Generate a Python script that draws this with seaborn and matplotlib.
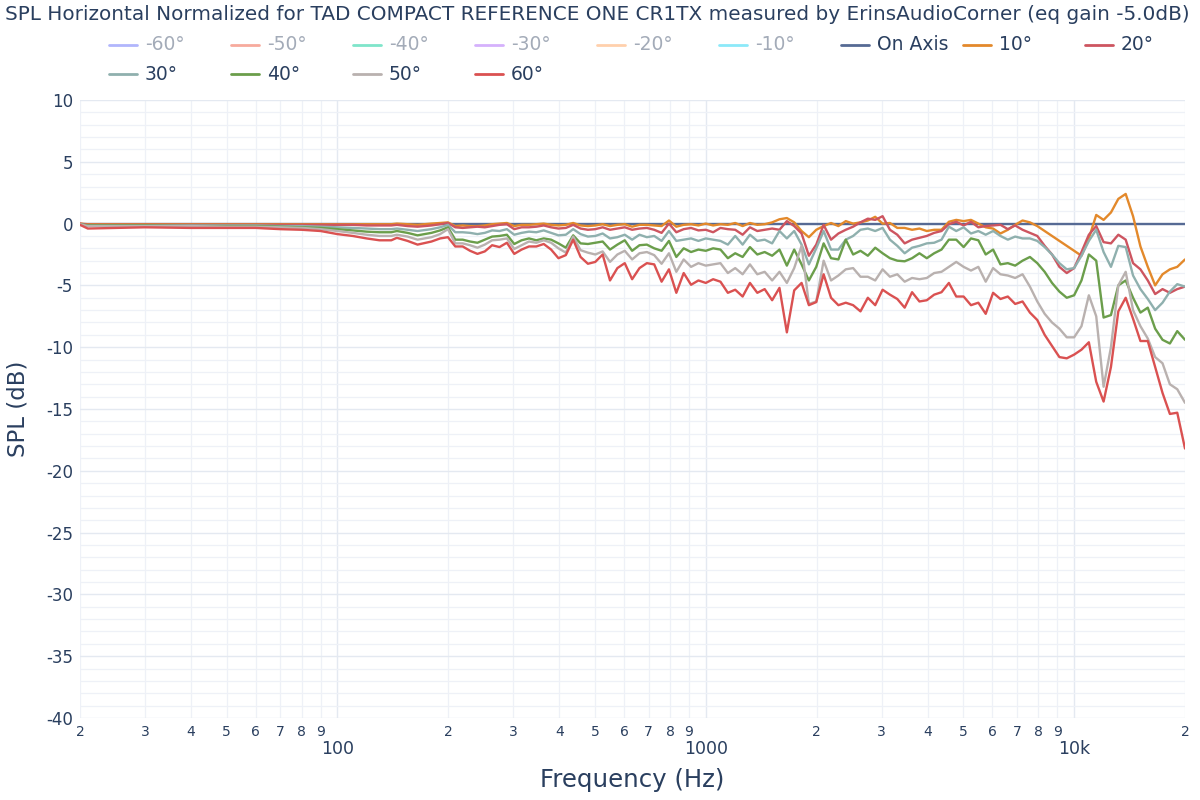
import matplotlib
matplotlib.use("Agg")
import numpy as np
import pandas as pd
import seaborn as sns
import matplotlib.pyplot as plt
from matplotlib.lines import Line2D

# ---------------- data ----------------
freq = [20, 21, 25, 30, 40, 50, 60, 70, 80, 90, 100, 110, 120, 130, 140, 145, 155, 165, 180, 190,
        199.5, 208.9, 218.8, 229.1, 239.9, 251.2, 263.0, 275.4, 288.4, 302.0,
        316.2, 331.1, 346.7, 363.1, 380.2, 398.1, 416.9, 436.5, 457.1, 478.6,
        501.2, 524.8, 549.5, 575.4, 602.6, 631.0, 660.7, 691.8, 724.4, 758.6,
        794.3, 831.8, 871.0, 912.0, 955.0, 1000, 1047, 1096, 1148, 1202,
        1259, 1318, 1380, 1445, 1514, 1585, 1660, 1738, 1820, 1905,
        1995, 2089, 2188, 2291, 2399, 2512, 2630, 2754, 2884, 3020,
        3162, 3311, 3467, 3631, 3802, 3981, 4169, 4365, 4571, 4786,
        5012, 5248, 5495, 5754, 6026, 6310, 6607, 6918, 7244, 7586,
        7943, 8318, 8710, 9120, 9550, 10000, 10471, 10965, 11482, 12023,
        12589, 13183, 13804, 14454, 15136, 15849, 16596, 17378, 18197, 19055,
        20000]

on_axis = [0.0] * 121

deg10 = [0.0, -0.05, -0.05, -0.05, -0.05, -0.05, -0.05, -0.05, -0.05, -0.05, -0.05, -0.05, -0.05, -0.05, -0.05, 0.0, -0.05, -0.1, 0.0, 0.05,
         0.1, -0.2, -0.15, -0.2, -0.2, -0.15, -0.05, 0.0, 0.05, -0.2,
         -0.1, -0.1, -0.05, 0.0, -0.1, -0.15, -0.1, 0.05, -0.15, -0.2,
         -0.15, -0.05, -0.2, -0.1, -0.05, -0.25, -0.1, -0.1, -0.15, -0.2,
         0.25, -0.25, -0.1, -0.05, -0.15, 0.0, -0.15, -0.05, -0.1, 0.05,
         -0.2, 0.05, -0.1, -0.05, 0.1, 0.35, 0.45, 0.1, -0.6, -1.1,
         -0.5, -0.2, 0.05, -0.2, 0.2, 0.0, 0.1, 0.25, 0.55, 0.0,
         0.05, -0.35, -0.35, -0.5, -0.4, -0.6, -0.5, -0.5, 0.15, 0.3,
         0.2, 0.3, 0.0, -0.3, -0.4, -0.8, -0.5, -0.1, 0.25, 0.1,
         -0.2, -0.6, -1.0, -1.4, -1.8, -2.2, -2.6, -1.2, 0.7, 0.3,
         0.9, 2.0, 2.4, 0.6, -1.85, -3.5, -5.0, -4.1, -3.7, -3.5,
         -2.9]

deg20 = [0.0, -0.1, -0.1, -0.1, -0.1, -0.1, -0.1, -0.1, -0.1, -0.1, -0.1, -0.1, -0.15, -0.15, -0.15, -0.1, -0.2, -0.25, -0.15, -0.05,
         0.05, -0.3, -0.35, -0.3, -0.25, -0.3, -0.2, -0.1, -0.05, -0.45,
         -0.3, -0.3, -0.25, -0.15, -0.3, -0.4, -0.35, -0.1, -0.4, -0.5,
         -0.45, -0.3, -0.5, -0.4, -0.3, -0.5, -0.4, -0.35, -0.5, -0.75,
         0.0, -0.7, -0.45, -0.35, -0.55, -0.5, -0.7, -0.35, -0.45, -0.5,
         -0.9, -0.3, -0.6, -0.5, -0.4, -0.5, 0.2, -0.2, -0.8, -2.6,
         -1.7, -0.1, -1.3, -0.8, -0.5, -0.25, 0.1, 0.4, 0.3, 0.6,
         -0.5, -0.9, -1.6, -1.3, -1.15, -1.0, -0.75, -0.6, -0.05, 0.15,
         -0.15, 0.15, -0.3, -0.2, -0.15, -0.1, -0.45, -0.15, -0.5, -0.75,
         -1.0, -1.8, -2.5, -3.5, -4.0, -3.6, -2.3, -0.9, -0.2, -1.5,
         -1.6, -0.9, -1.3, -3.2, -3.7, -4.6, -5.7, -5.3, -5.6, -5.3,
         -5.1]

deg30 = [-0.05, -0.15, -0.15, -0.15, -0.15, -0.15, -0.15, -0.2, -0.2, -0.25, -0.3, -0.35, -0.4, -0.45, -0.45, -0.4, -0.5, -0.6, -0.45, -0.3,
         -0.1, -0.7, -0.7, -0.75, -0.85, -0.75, -0.55, -0.6, -0.45, -0.9,
         -0.75, -0.65, -0.7, -0.55, -0.75, -0.95, -0.9, -0.45, -0.85, -1.05,
         -1.0, -0.8, -1.2, -1.1, -0.9, -1.3, -0.9, -1.1, -1.0, -1.4,
         -0.6, -1.4, -1.3, -1.2, -1.4, -1.2, -1.3, -1.4, -1.7, -1.0,
         -1.7, -0.9, -1.4, -1.3, -1.6, -0.6, -1.2, -0.6, -1.7, -3.3,
         -2.0, -0.6, -2.1, -2.1, -1.3, -1.0, -0.5, -0.4, -0.6, -0.35,
         -1.3, -1.8, -2.4, -1.95, -1.8, -1.6, -1.55, -1.3, -0.25, -0.6,
         -0.3, -0.8, -0.6, -0.9, -0.6, -1.0, -1.3, -1.05, -1.2, -1.2,
         -1.4, -1.9, -2.5, -3.2, -3.7, -3.6, -2.6, -1.4, -0.5, -2.3,
         -3.5, -1.8, -1.9, -4.2, -5.3, -6.1, -7.0, -6.4, -5.5, -4.9,
         -5.1]

deg40 = [-0.05, -0.15, -0.15, -0.15, -0.2, -0.2, -0.2, -0.25, -0.3, -0.35, -0.45, -0.55, -0.65, -0.7, -0.7, -0.6, -0.75, -0.95, -0.75, -0.55,
         -0.3, -1.3, -1.3, -1.45, -1.55, -1.3, -1.05, -1.0, -0.9, -1.65,
         -1.35, -1.2, -1.35, -1.2, -1.3, -1.6, -1.95, -0.95, -1.6, -1.65,
         -1.55, -1.45, -2.1, -1.7, -1.35, -2.2, -1.75, -1.7, -2.0, -2.2,
         -1.4, -2.7, -2.0, -2.3, -2.1, -2.2, -2.0, -2.1, -2.8, -2.4,
         -2.7, -1.9, -2.5, -2.3, -2.6, -2.1, -3.4, -2.1, -3.3, -4.6,
         -3.5, -1.6, -2.8, -2.9, -1.3, -2.5, -2.2, -2.6, -1.95, -2.4,
         -2.8, -3.0, -3.05, -2.8, -2.4, -2.8, -2.4, -2.1, -1.3, -1.3,
         -1.9, -1.2, -1.35, -2.5, -2.1, -3.3, -3.2, -3.4, -3.0, -2.7,
         -3.2, -3.9, -4.8, -5.5, -6.0, -5.8, -4.6, -2.5, -3.0, -7.6,
         -7.4, -5.0, -4.6, -6.0, -7.2, -6.8, -8.5, -9.4, -9.7, -8.7,
         -9.4]

deg50 = [-0.05, -0.2, -0.2, -0.2, -0.2, -0.25, -0.25, -0.3, -0.35, -0.45, -0.6, -0.75, -0.9, -1.0, -1.0, -0.9, -1.05, -1.3, -1.1, -0.85,
         -0.45, -1.6, -1.6, -1.75, -1.95, -1.7, -1.35, -1.3, -1.2, -2.05,
         -1.75, -1.45, -1.55, -1.35, -1.55, -2.0, -2.35, -1.05, -2.15, -2.35,
         -2.5, -2.25, -3.1, -2.5, -2.2, -2.9, -2.4, -2.3, -2.55, -3.25,
         -2.4, -3.9, -2.9, -3.5, -3.2, -3.4, -3.3, -3.2, -4.0, -3.6,
         -4.1, -3.3, -4.1, -3.9, -4.6, -3.9, -4.8, -3.6, -1.8, -6.5,
         -6.3, -3.0, -4.6, -4.2, -3.7, -3.6, -4.3, -4.3, -4.6, -3.7,
         -4.3, -4.1, -4.7, -4.4, -4.5, -4.4, -4.0, -3.9, -3.5, -3.1,
         -3.5, -3.8, -3.5, -4.7, -3.6, -4.1, -4.2, -4.4, -4.1, -5.1,
         -6.3, -7.3, -8.0, -8.5, -9.2, -9.2, -8.3, -5.8, -7.5, -13.2,
         -10.0, -5.0, -3.9, -7.0, -8.3, -9.3, -10.8, -11.3, -13.0, -13.4,
         -14.5]

deg60 = [-0.1, -0.4, -0.35, -0.3, -0.35, -0.35, -0.35, -0.45, -0.5, -0.6, -0.85, -1.0, -1.2, -1.35, -1.35, -1.15, -1.4, -1.7, -1.45, -1.2,
         -1.1, -1.85, -1.85, -2.2, -2.45, -2.25, -1.75, -1.9, -1.55, -2.45,
         -2.1, -1.85, -1.85, -1.65, -2.1, -2.8, -2.55, -1.3, -2.7, -3.25,
         -3.1, -2.5, -4.6, -3.6, -3.2, -4.5, -3.6, -3.2, -3.3, -4.7,
         -3.7, -5.6, -4.0, -4.95, -4.6, -4.8, -4.5, -4.7, -5.6, -5.35,
         -5.9, -4.8, -5.6, -5.3, -6.2, -5.2, -8.8, -5.4, -4.8, -6.6,
         -6.35, -4.1, -6.0, -6.6, -6.4, -6.6, -7.1, -6.0, -6.6, -5.35,
         -5.75, -6.1, -6.8, -5.55, -6.3, -6.2, -5.75, -5.55, -4.8, -5.9,
         -5.9, -6.6, -6.4, -7.3, -5.6, -6.1, -5.9, -6.5, -6.3, -7.2,
         -7.8, -9.0, -9.9, -10.8, -10.9, -10.6, -10.2, -9.6, -12.8, -14.4,
         -11.6, -7.1, -6.0, -7.7, -9.5, -9.5, -11.6, -13.7, -15.4, -15.3,
         -18.2]

visible_names = ["On Axis", "10°", "20°", "30°", "40°", "50°", "60°"]
visible_values = [on_axis, deg10, deg20, deg30, deg40, deg50, deg60]
visible_colors = ["#566a94", "#e3892b", "#cd5560", "#8fb0ae", "#6b9e4b", "#b9b1af", "#da5151"]

hidden_names = ["-60°", "-50°", "-40°", "-30°", "-20°", "-10°"]
hidden_colors = ["#b1b6fc", "#f7aa9d", "#7fe5ca", "#d5b1fc", "#ffd0ac", "#8ce9f9"]

title = "SPL Horizontal Normalized for TAD COMPACT REFERENCE ONE CR1TX measured by ErinsAudioCorner (eq gain -5.0dB)"

# ---------------- frame ----------------
rows = []
for name, vals in zip(visible_names, visible_values):
    for f, v in zip(freq, vals):
        rows.append((name, f, v))
df = pd.DataFrame(rows, columns=["angle", "freq", "spl"])

sns.set_theme(style="white")
plt.rcParams["font.family"] = ["DejaVu Sans"]
txt = "#2a3f5f"

W, H = 1200, 800
fig = plt.figure(figsize=(12, 8), dpi=100)
ax = fig.add_axes([80 / W, 1 - 718 / H, 1105 / W, 618 / H])

sns.lineplot(data=df, x="freq", y="spl", hue="angle", hue_order=visible_names,
             palette=dict(zip(visible_names, visible_colors)), linewidth=1.7,
             legend=False, ax=ax, estimator=None, sort=False)

ax.set_xscale("log")
ax.set_xlim(20, 20000)
ax.set_ylim(-40, 10)

ax.set_yticks(list(range(-40, 11, 5)))
ax.set_yticks(list(range(-40, 11, 1)), minor=True)
ax.set_yticklabels([str(v) for v in range(-40, 11, 5)])

major_x = [100, 1000, 10000]
minor_x = []
minor_lab = []
for dec in [10, 100, 1000]:
    for d in range(2, 10):
        minor_x.append(d * dec)
        minor_lab.append(str(d))
minor_x.append(20000)
minor_lab.append("2")
ax.set_xticks(major_x)
ax.set_xticklabels(["100", "1000", "10k"])
ax.set_xticks(minor_x, minor=True)
ax.set_xticklabels(minor_lab, minor=True)

ax.tick_params(axis="x", which="major", length=0, pad=16, labelsize=12.5, colors=txt)
ax.tick_params(axis="x", which="minor", length=0, pad=5, labelsize=10, colors=txt)
ax.tick_params(axis="y", which="both", length=0, pad=5, labelsize=12, colors=txt)

ax.grid(which="major", color="#e4e9f1", linewidth=1.0)
ax.grid(which="minor", color="#eef1f7", linewidth=0.9)
ax.set_axisbelow(True)
for s in ax.spines.values():
    s.set_visible(False)
ax.set_xlabel("")
ax.set_ylabel("")

renderer = fig.canvas.get_renderer()


def fit_text(x, y, s, target_w, base, **kw):
    t = fig.text(x, y, s, fontsize=base, **kw)
    w = t.get_window_extent(renderer=renderer).width
    t.set_fontsize(base * target_w / w)
    return t


fit_text(5 / W, 1 - 15 / H, title, 1190, 12.5, ha="left", va="center", color=txt)
fit_text(632 / W, 1 - 780 / H, "Frequency (Hz)", 184, 16, ha="center", va="center", color=txt)
fig.text(18 / W, 1 - 409 / H, "SPL (dB)", ha="center", va="center", rotation=90, fontsize=16.5, color=txt)

# ---------------- legend ----------------
leg_names = hidden_names + visible_names
leg_colors = hidden_colors + visible_colors
leg_faded = [True] * 6 + [False] * 7
for i, (n, c, fd) in enumerate(zip(leg_names, leg_colors, leg_faded)):
    row = i // 9
    col = i % 9
    xt = 145 + 122 * col
    yc = 45 + 29 * row
    fig.add_artist(Line2D([(xt - 36) / W, (xt - 8) / W], [1 - yc / H, 1 - yc / H],
                          color=c, linewidth=2, transform=fig.transFigure))
    fig.text(xt / W, 1 - yc / H, n, ha="left", va="center", fontsize=13.5,
             color="#a3abb8" if fd else txt)

fig.savefig("out.png", dpi=100, facecolor="white")
